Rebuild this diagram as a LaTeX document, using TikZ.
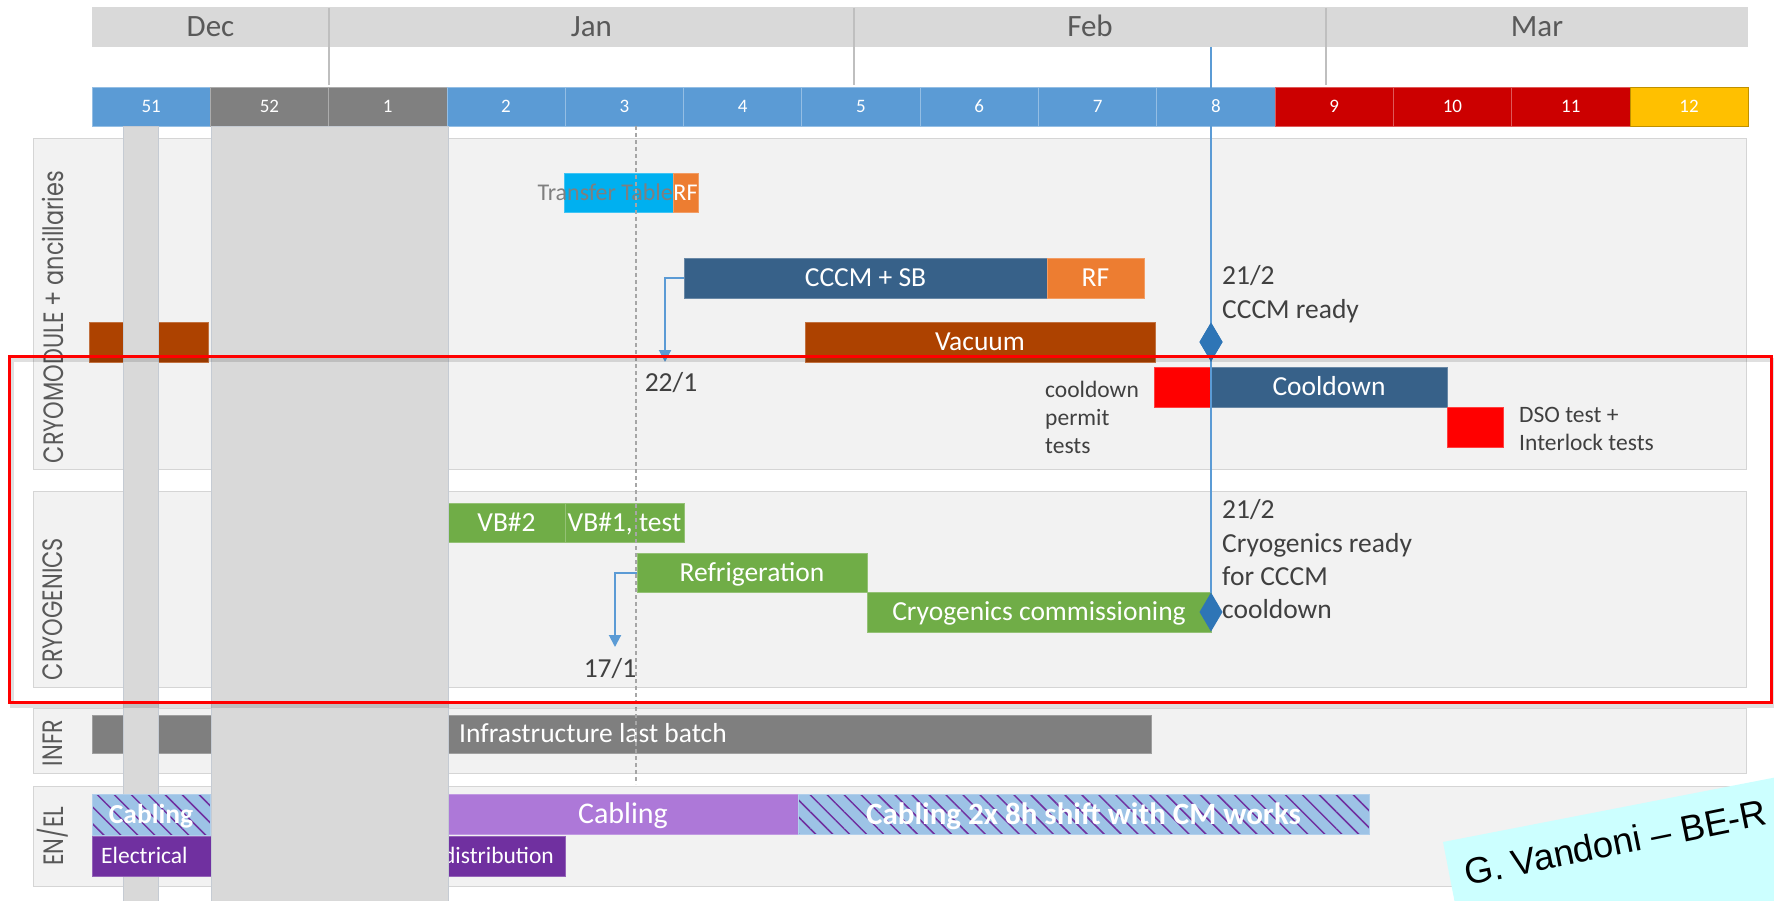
\documentclass[tikz,border=0pt]{standalone}
\usepackage{fontspec}
\setmainfont{Carlito}
\newfontfamily\labfont{Poppins}
\newfontfamily\arialfont{Liberation Sans}
\usetikzlibrary{shapes.geometric,arrows.meta,patterns.meta}
\definecolor{monthbg}{HTML}{D9D9D9}
\definecolor{monthtxt}{HTML}{595959}
\definecolor{wkblue}{HTML}{5B9BD5}
\definecolor{wkgray}{HTML}{808080}
\definecolor{wkred}{HTML}{CC0000}
\definecolor{wkyel}{HTML}{FFC000}
\definecolor{wkyelb}{HTML}{BF9000}
\definecolor{panel}{HTML}{F2F2F2}
\definecolor{panelb}{HTML}{D5D5D5}
\definecolor{band}{HTML}{D9D9D9}
\definecolor{bandb}{HTML}{C5CBD3}
\definecolor{cyanbar}{HTML}{00B0F0}
\definecolor{orangebar}{HTML}{ED7D31}
\definecolor{steelbar}{HTML}{376189}
\definecolor{rustbar}{HTML}{AD4200}
\definecolor{redbar}{HTML}{FF0000}
\definecolor{greenbar}{HTML}{70AD47}
\definecolor{graybar}{HTML}{7F7F7F}
\definecolor{lilacbar}{HTML}{AD78D8}
\definecolor{purplebar}{HTML}{7030A0}
\definecolor{hatchbg}{HTML}{9DC3E6}
\definecolor{msblue}{HTML}{2E75B6}
\definecolor{linkblue}{HTML}{5B9BD5}
\definecolor{annot}{HTML}{404040}
\definecolor{dashgray}{HTML}{A6A6A6}
\definecolor{notebg}{HTML}{CCFFFF}
\newcommand\gbar[7]{\node[#6, anchor=north west, minimum width={#4pt-#2pt}, minimum height={#5pt-#3pt}] (#1) at (#2,#3) {#7};}
\tikzset{
 month/.style={anchor=north west, inner sep=0pt, outer sep=0pt, fill=monthbg, minimum height=40pt, text=monthtxt, font=\fontsize{31}{37}\selectfont, text height=20pt, text depth=0pt},
 divider/.style={draw=black!25, line width=2.5pt},
 wk/.style={anchor=north west, inner sep=0pt, outer sep=0pt, minimum width=118.3pt, minimum height=39pt, fill=#1, line width=0.8pt, text=white, font=\fontsize{19}{23}\selectfont, text height=12pt, text depth=0pt},
 panelst/.style={fill=panel, draw=panelb, line width=1pt},
 bandst/.style={fill=band, draw=bandb, line width=0.8pt},
 sidelab/.style={rotate=90, inner sep=0pt, text=monthtxt, font=\labfont\fontsize{28}{32}\selectfont},
 gbs/.style={inner sep=0pt, outer sep=0pt, fill=#1, draw=#1!75!white, line width=0.8pt, text=white, font=\fontsize{27.5}{33}\selectfont, text height=17.7pt, text depth=0pt},
 gbh/.style={inner sep=0pt, outer sep=0pt, preaction={fill=hatchbg}, pattern={Lines[angle=-45,distance=12pt,line width=1.5pt]}, pattern color=purplebar, draw=hatchbg!80!white, line width=0.8pt, text=white, font=\bfseries\fontsize{27.5}{33}\selectfont, text height=17.7pt, text depth=0pt},
 bartext/.style={inner sep=0pt, text=white, font=\fontsize{27.5}{33}\selectfont, text height=17.7pt, text depth=0pt},
 smalltext/.style={inner sep=0pt, text=white, font=\fontsize{23.5}{28}\selectfont, text height=15.1pt, text depth=0pt},
 ann/.style={inner sep=0pt, anchor=base west, text=annot, font=\fontsize{27.5}{33}\selectfont},
 anns/.style={ann, font=\fontsize{23.5}{28}\selectfont},
 link/.style={draw=linkblue, line width=2pt, -{Triangle[length=12pt,width=12pt]}},
 msline/.style={draw=linkblue, line width=2pt},
 milestone/.style={diamond, fill=msblue, inner sep=0pt, outer sep=0pt, minimum width=23pt, minimum height=39pt},
 guide/.style={draw=dashgray, line width=1.2pt, dash pattern=on 4pt off 3pt},
 focus/.style={draw=redbar, line width=3pt},
}
\begin{document}
\begin{tikzpicture}[x=1pt,y=-1pt]
\useasboundingbox (0,0) rectangle (1774,901);
\fill[white] (0,0) rectangle (1774,901);
% months
\node[month, minimum width=237pt] (mdec) at (92,7) {Dec};
\node[month, minimum width=525pt] (mjan) at (329,7) {Jan};
\node[month, minimum width=472pt] (mfeb) at (854,7) {Feb};
\node[month, minimum width=422pt] (mmar) at (1326,7) {Mar};
\draw[divider] (329,8) -- (329,85);
\draw[divider] (854,8) -- (854,85);
\draw[divider] (1326,8) -- (1326,85);
% weeks
\foreach \n/\c/\d [count=\i from 0] in {51/wkblue/wkblue!65!white,52/wkgray/wkgray!65!white,1/wkgray/wkgray!65!white,2/wkblue/wkblue!65!white,3/wkblue/wkblue!65!white,4/wkblue/wkblue!65!white,5/wkblue/wkblue!65!white,6/wkblue/wkblue!65!white,7/wkblue/wkblue!65!white,8/wkblue/wkblue!65!white,9/wkred/wkred!65!white,10/wkred/wkred!65!white,11/wkred/wkred!65!white,12/wkyel/wkyelb}
  {\node[wk=\c, draw=\d] (w\n) at ({92+118.3*\i},87) {\n};}
% panels
\filldraw[panelst] (33,139) rectangle (1746,469);
\filldraw[panelst] (33,491) rectangle (1746,687);
\filldraw[panelst] (33,708) rectangle (1746,773);
\filldraw[panelst] (33,786) rectangle (1746,886);
\node[sidelab] (lcm) at (53,317) {\scalebox{0.8}[1]{CRYOMODULE + ancillaries}};
\node[sidelab] (lcr) at (53,609) {\scalebox{0.8}[1]{CRYOGENICS}};
\node[sidelab] (lin) at (53,743) {\scalebox{0.8}[1]{INFR}};
\node[sidelab] (len) at (53,836) {\scalebox{0.8}[1]{EN/EL}};
% cryomodule bars
\gbar{tt}{564}{173}{673}{212}{gbs=cyanbar}{}
\gbar{rfa}{673}{173}{698}{212}{gbs=orangebar, font=\fontsize{24}{28}\selectfont, text height=15.5pt}{RF}
\node[inner sep=0pt, anchor=east, text=graybar, font=\fontsize{24}{28}\selectfont, text height=15.5pt, text depth=0pt] (ttlab) at (tt.east) {Transfer Table};
\gbar{cccm}{684}{258}{1047}{298}{gbs=steelbar}{CCCM + SB}
\gbar{rfb}{1047}{258}{1144}{298}{gbs=orangebar}{RF}
\gbar{vaca}{89}{322}{208}{362}{gbs=rustbar}{}
\gbar{vac}{805}{322}{1155}{362}{gbs=rustbar}{Vacuum}
\gbar{cdp}{1154}{367}{1211}{407}{gbs=redbar}{}
\gbar{cool}{1211}{367}{1447}{407}{gbs=steelbar}{Cooldown}
\gbar{dso}{1447}{407}{1503}{447}{gbs=redbar}{}
% cryogenics bars
\gbar{vbb}{448}{503}{565}{542}{gbs=greenbar}{VB\#2}
\gbar{vba}{565}{503}{684}{542}{gbs=greenbar}{VB\#1, test}
\gbar{refr}{637}{553}{867}{592}{gbs=greenbar}{Refrigeration}
\gbar{cryo}{867}{592}{1211}{632}{gbs=greenbar}{Cryogenics commissioning}
% infrastructure
\gbar{infr}{92}{715}{1151}{753}{gbs=graybar}{}
\node[bartext, anchor=west] (infrlab) at ([xshift=367pt]infr.west) {Infrastructure last batch};
% narrow band
\filldraw[bandst] (123,126) rectangle (158,905);
% EN/EL bars
\gbar{caba}{92}{794}{210}{835}{gbh}{Cabling}
\gbar{cabb}{448}{794}{798}{834}{gbs=lilacbar, font=\fontsize{30}{36}\selectfont, text height=19.3pt}{Cabling}
\gbar{cabc}{798}{794}{1369}{834}{gbh, font=\bfseries\fontsize{31}{37}\selectfont, text height=20pt}{Cabling 2x 8h shift with CM works}
\gbar{elec}{92}{836}{565}{876}{gbs=purplebar}{}
\node[smalltext, anchor=west] (eleca) at ([xshift=9pt]elec.west) {Electrical};
\node[smalltext, anchor=east] (elecb) at ([xshift=-11pt]elec.east) {distribution};
% wide band
\filldraw[bandst] (211,126) rectangle (448,905);
% guide line
\draw[guide] (636,126) -- (636,784);
% annotations
\node[ann] (ca) at (1222,284) {21/2};
\node[ann] (cb) at (1222,318) {CCCM ready};
\node[anns] (pa) at (1045,397) {cooldown};
\node[anns] (pb) at (1045,425) {permit};
\node[anns] (pc) at (1045,453) {tests};
\node[anns] (sa) at (1519,422) {DSO test +};
\node[anns] (sb) at (1519,450) {Interlock tests};
\node[ann] (ga) at (1222,518) {21/2};
\node[ann] (gb) at (1222,552) {Cryogenics ready};
\node[ann] (gc) at (1222,585) {for CCCM};
\node[ann] (gd) at (1222,618) {cooldown};
\node[ann, anchor=base] (dcm) at (671,391) {22/1};
\node[ann, anchor=base] (dcr) at (610,677) {17/1};
% links
\coordinate (pcm) at (665,362);
\coordinate (pcr) at (615,647);
\draw[link] (cccm.west) -| (pcm);
\draw[link] (refr.west) -| (pcr);
% milestones
\coordinate (mtop) at (1211,47);
\node[milestone] (msa) at (1211,342) {};
\node[milestone] (msb) at (1211,612) {};
\draw[msline] (mtop) -- (msb.north);
\node[milestone] at (msa) {};
% focus frame
\draw[black, opacity=0.12, line width=4pt] (12,360) rectangle (1774,706);
\draw[focus] (9,356) rectangle (1771,702);
% author note
\begin{scope}
\clip (0,0) rectangle (1774,901);
\fill[notebg, shift={(1443,842)}, rotate=11] (0,0) rectangle (420,150);
\node[rotate=11.5, anchor=base west, inner sep=0pt, font=\arialfont\fontsize{36.5}{42}\selectfont] (author) at (1467,886) {G. Vandoni – BE-R};
\end{scope}
\end{tikzpicture}
\end{document}
